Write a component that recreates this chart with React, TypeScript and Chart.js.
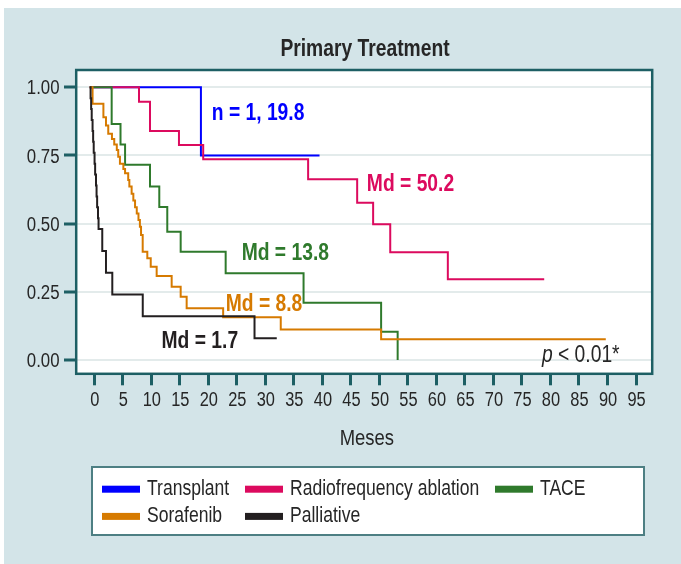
import React, { useEffect, useRef } from "react";
import { Chart, registerables } from "chart.js";

Chart.register(...registerables);

// ---- data (months, survival probability) ----
const seriesNames = ["Transplant", "Radiofrequency ablation", "TACE", "Sorafenib", "Palliative"];

const transplantTime = [-0.8, 18.7, 39.5];
const transplantSurv = [1, 0.75, 0.75];

const rfaTime = [-0.8, 7.84, 9.77, 14.85, 19.1, 37.5, 46.1, 48.9, 51.9, 62.0, 78.9];
const rfaSurv = [1, 0.947, 0.84, 0.788, 0.736, 0.663, 0.577, 0.498, 0.395, 0.296, 0.296];

const taceTime = [-0.8, 3.05, 4.6, 5.4, 9.77, 11.4, 12.8, 15.15, 23.04, 36.7, 50.3, 53.2];
const taceSurv = [1, 0.865, 0.79, 0.716, 0.636, 0.561, 0.47, 0.397, 0.318, 0.21, 0.104, 0];

const sorafenibTime = [-0.8, -0.3, 1.6, 2.05, 2.45, 3.1, 3.5, 3.95, 4.2, 4.5, 5.1, 5.4, 5.95, 6.15, 6.55, 6.85, 7.15, 7.45, 7.75, 8.0, 8.2, 8.49, 9.3, 9.9, 10.94, 13.57, 15.15, 16.2, 22.6, 32.7, 50.3, 89.7];
const sorafenibSurv = [1, 0.94, 0.89, 0.86, 0.83, 0.81, 0.79, 0.77, 0.745, 0.72, 0.7, 0.685, 0.66, 0.636, 0.61, 0.585, 0.56, 0.537, 0.513, 0.489, 0.458, 0.397, 0.373, 0.342, 0.308, 0.269, 0.232, 0.19, 0.157, 0.112, 0.076, 0.076];

const palliativeTime = [-0.8, -0.65, -0.55, -0.45, -0.3, -0.2, -0.1, 0.05, 0.15, 0.3, 0.4, 0.5, 0.65, 0.75, 1.4, 2.05, 3.16, 8.5, 28.1, 32.0];
const palliativeSurv = [1, 0.96, 0.92, 0.88, 0.84, 0.8, 0.76, 0.72, 0.68, 0.64, 0.6, 0.56, 0.52, 0.48, 0.4, 0.32, 0.24, 0.16, 0.08, 0.08];

const xTickValues = [0, 5, 10, 15, 20, 25, 30, 35, 40, 45, 50, 55, 60, 65, 70, 75, 80, 85, 90, 95];
const yTickValues = [0, 0.25, 0.5, 0.75, 1];

const annotationTexts = ["n = 1, 19.8", "Md = 50.2", "Md = 13.8", "Md = 8.8", "Md = 1.7"];
const annotationAnchorX = [20.6, 47.8, 25.85, 23.05, 11.8];
const annotationAnchorY = [0.88, 0.621, 0.367, 0.18, 0.043];

const titleText = "Primary Treatment";
const xTitleText = "Meses";

// ---- styles ----
const FONT = '"Liberation Sans", Arial, sans-serif';
const NARROW = 0.82; // Arial Narrow ≈ 82% of Arial width
const COLORS = ["#0000ff", "#dc0a5e", "#2f7a2c", "#d67a00", "#231f20"];
const TEAL = "#1d5f64";
const TEXT = "#262626";

function toPoints(t: number[], s: number[]) {
  return t.map((x, i) => ({ x, y: s[i] }));
}

function narrowText(
  ctx: CanvasRenderingContext2D,
  text: string,
  x: number,
  y: number,
  font: string,
  color: string,
  align: CanvasTextAlign = "left",
  baseline: CanvasTextBaseline = "alphabetic"
) {
  ctx.save();
  ctx.font = font;
  ctx.fillStyle = color;
  ctx.textAlign = align;
  ctx.textBaseline = baseline;
  ctx.translate(x, y);
  ctx.scale(NARROW, 1);
  ctx.fillText(text, 0, 0);
  const w = ctx.measureText(text).width * NARROW;
  ctx.restore();
  return w;
}

const decorPlugin = {
  id: "decor",
  beforeDraw(chart: any) {
    const { ctx, width, height, chartArea: a } = chart;
    ctx.save();
    ctx.fillStyle = "#ffffff";
    ctx.fillRect(0, 0, width, height);
    ctx.fillStyle = "#d3e4e8";
    ctx.fillRect(4, 8, width - 4, height - 8);
    ctx.fillStyle = "#ffffff";
    ctx.fillRect(a.left, a.top, a.right - a.left, a.bottom - a.top);
    ctx.restore();
  },
  afterDatasetsDraw(chart: any) {
    const { ctx, chartArea: a } = chart;
    ctx.save();
    ctx.strokeStyle = TEAL;
    ctx.lineWidth = 2.5;
    ctx.strokeRect(a.left - 0.8, a.top - 0.5, a.right - a.left + 1.3, a.bottom - a.top + 1.0);
    ctx.restore();
  },
  afterDraw(chart: any) {
    const { ctx, chartArea: a } = chart;
    const xs = chart.scales.x;
    const ys = chart.scales.y;

    // title
    narrowText(ctx, titleText, 365, 55.5, `bold 23.5px ${FONT}`, TEXT, "center");

    // axis tick labels (positions from the chart's scales)
    xs.ticks.forEach((t: any) => {
      narrowText(ctx, String(t.label), xs.getPixelForValue(t.value) + 0.5, a.bottom + 32.7, `20px ${FONT}`, TEXT, "center");
    });
    ys.ticks.forEach((t: any) => {
      narrowText(ctx, String(t.label), a.left - 17.5, ys.getPixelForValue(t.value) + 7.2, `20.5px ${FONT}`, TEXT, "right");
    });

    // x axis title
    narrowText(ctx, xTitleText, (a.left + a.right) / 2 + 2.5, 445.4, `22.5px ${FONT}`, TEXT, "center");

    // annotations
    annotationTexts.forEach((txt, i) => {
      narrowText(
        ctx,
        txt,
        xs.getPixelForValue(annotationAnchorX[i]),
        ys.getPixelForValue(annotationAnchorY[i]),
        `bold 23.5px ${FONT}`,
        COLORS[i]
      );
    });

    // p-value
    const px = xs.getPixelForValue(78.5);
    const py = ys.getPixelForValue(-0.006);
    const pw = narrowText(ctx, "p", px, py, `italic 23.5px ${FONT}`, TEXT);
    narrowText(ctx, " < 0.01*", px + pw, py, `23.5px ${FONT}`, TEXT);

    // legend box
    ctx.save();
    const lx = 92, ly = 467, lw = 552, lh = 68;
    ctx.fillStyle = "#ffffff";
    ctx.fillRect(lx, ly, lw, lh);
    ctx.strokeStyle = "#4d7f83";
    ctx.lineWidth = 2;
    ctx.strokeRect(lx, ly, lw, lh);
    ctx.restore();
    const cols = [102, 245, 495];
    const rows = [489.2, 516.4];
    seriesNames.forEach((name, i) => {
      const c = cols[i % 3];
      const r = rows[Math.floor(i / 3)];
      ctx.save();
      ctx.fillStyle = COLORS[i];
      ctx.fillRect(c, r - 3.5, 38, 7);
      ctx.restore();
      narrowText(ctx, name, c + 45, r + 5.3, `21.4px ${FONT}`, TEXT);
    });
  },
};

export default function App() {
  const ref = useRef<HTMLCanvasElement | null>(null);
  useEffect(() => {
    if (!ref.current) return;
    const series = [
      toPoints(transplantTime, transplantSurv),
      toPoints(rfaTime, rfaSurv),
      toPoints(taceTime, taceSurv),
      toPoints(sorafenibTime, sorafenibSurv),
      toPoints(palliativeTime, palliativeSurv),
    ];
    const chart = new Chart(ref.current, {
      type: "line",
      data: {
        datasets: series.map((data, i) => ({
          label: seriesNames[i],
          data,
          borderColor: COLORS[i],
          backgroundColor: COLORS[i],
          borderWidth: 2,
          pointRadius: 0,
          stepped: true,
          fill: false,
          order: 5 - i,
        })),
      },
      options: {
        responsive: false,
        animation: false,
        devicePixelRatio: 1,
        events: [],
        layout: { autoPadding: false, padding: { left: 0, top: 70.5, right: 29.3, bottom: 112.7 } },
        plugins: { legend: { display: false }, title: { display: false }, tooltip: { enabled: false } },
        scales: {
          x: {
            type: "linear",
            min: -3.03,
            max: 97.75,
            afterBuildTicks: (s: any) => {
              s.ticks = xTickValues.map((v) => ({ value: v }));
            },
            afterFit: (s: any) => {
              s.height = 78;
            },
            grid: { drawOnChartArea: false, tickColor: TEAL, tickLength: 12, tickWidth: 3 },
            border: { display: false },
            ticks: {
              display: false,
              autoSkip: false,
              maxRotation: 0,
              callback: (v: any) => String(v),
            },
          },
          y: {
            type: "linear",
            min: -0.0488,
            max: 1.0616,
            afterBuildTicks: (s: any) => {
              s.ticks = yTickValues.map((v) => ({ value: v }));
            },
            afterFit: (s: any) => {
              s.width = 77;
            },
            grid: { color: "#e3ebeb", lineWidth: 2, tickColor: TEAL, tickLength: 13, tickWidth: 3 },
            border: { display: false },
            ticks: {
              display: false,
              callback: (v: any) => Number(v).toFixed(2),
            },
          },
        },
      },
      plugins: [decorPlugin],
    } as any);
    return () => chart.destroy();
  }, []);
  return (
    <div style={{ position: "absolute", left: 0, top: 0, width: 681, height: 564 }}>
      <canvas ref={ref} width={681} height={564} style={{ display: "block", width: 681, height: 564 }} />
    </div>
  );
}
